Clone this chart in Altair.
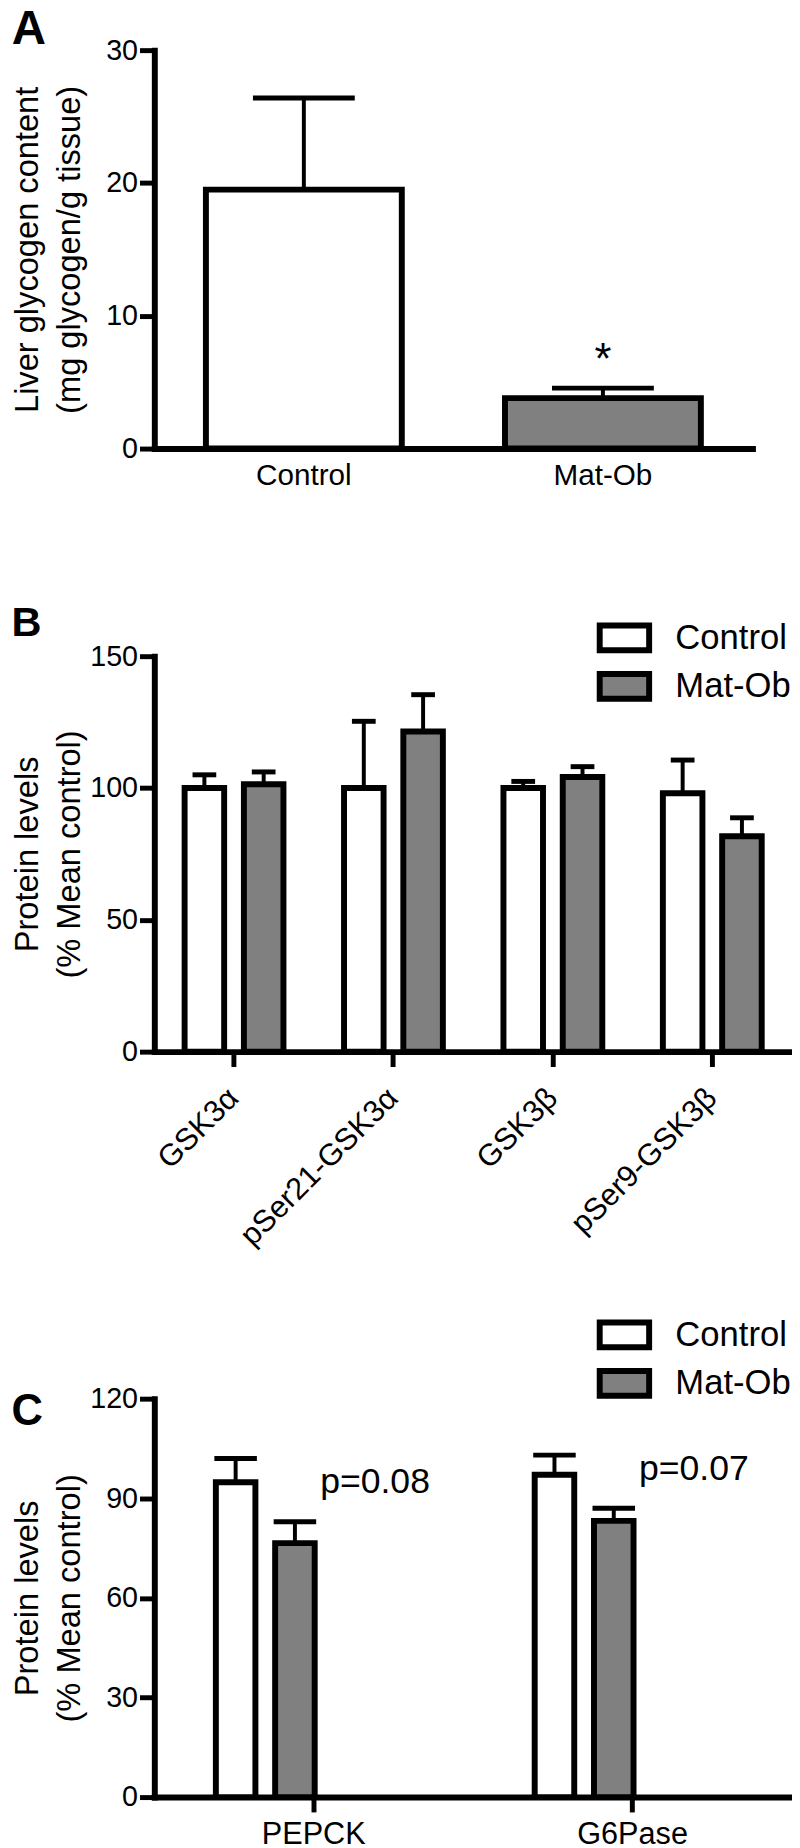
import altair as alt
import pandas as pd

FONT = "Liberation Sans, Arial, Helvetica, sans-serif"

# ---------------- data ----------------
groups = ["Control", "Mat-Ob"]
group_colors = ["#ffffff", "#808080"]

# Panel A: liver glycogen (mg glycogen / g tissue)
a_groups = ["Control", "Mat-Ob"]
a_mean = [19.5, 3.8]
a_err = [6.9, 0.75]
a_marks = ["", "*"]

# Panel B: protein levels (% mean control)
b_targets = ["GSK3α", "pSer21-GSK3α", "GSK3β", "pSer9-GSK3β"]
b_control_mean = [100.0, 100.0, 100.0, 98.0]
b_control_err = [5.0, 25.3, 2.5, 12.6]
b_matob_mean = [101.4, 121.4, 104.2, 81.7]
b_matob_err = [4.7, 14.0, 3.9, 7.0]

# Panel C: protein levels (% mean control)
c_targets = ["PEPCK", "G6Pase"]
c_control_mean = [94.8, 97.1]
c_control_err = [7.2, 5.9]
c_matob_mean = [76.5, 83.2]
c_matob_err = [6.4, 3.8]
c_pvalues = ["p=0.08", "p=0.07"]

# ---------------- tables ----------------
dfA = pd.DataFrame({
    "group": a_groups,
    "mean": a_mean,
    "upper": [m + e for m, e in zip(a_mean, a_err)],
    "mark": a_marks,
})


def long_table(targets, cm, ce, mm, me):
    rows = []
    for i, t in enumerate(targets):
        rows.append({"target": t, "group": "Control", "mean": cm[i], "upper": cm[i] + ce[i]})
        rows.append({"target": t, "group": "Mat-Ob", "mean": mm[i], "upper": mm[i] + me[i]})
    return pd.DataFrame(rows)


dfB = long_table(b_targets, b_control_mean, b_control_err, b_matob_mean, b_matob_err)
dfC = long_table(c_targets, c_control_mean, c_control_err, c_matob_mean, c_matob_err)
dfC_notes = pd.DataFrame({
    "target": c_targets,
    "upper": [m + e for m, e in zip(c_matob_mean, c_matob_err)],
    "note": c_pvalues,
})

# 50 x 25 px rectangle drawn from a small nominal symbol size
RECT_PATH = "M-2,-1H2V1H-2Z"


def legend(ly):
    return alt.Legend(
        title=None, orient="none", legendX=458, legendY=ly, padding=0,
        symbolType=RECT_PATH, symbolSize=625, symbolStrokeWidth=6,
        symbolStrokeColor="black", symbolOpacity=1,
        labelFont=FONT, labelFontSize=35, labelColor="black",
        labelOffset=34, rowPadding=0,
    )


# ---------------- panel A ----------------
xA = alt.X("group:N", sort=a_groups,
           scale=alt.Scale(paddingInner=0.345, paddingOuter=0.1725),
           axis=alt.Axis(title=None, labelAngle=0, ticks=False, tickSize=0,
                         labelPadding=12, labelFontSize=30))
yA_axis = alt.Axis(values=[0, 10, 20, 30], title=["Liver glycogen content", "(mg glycogen/g tissue)"],
                   labelFlush=False, titlePadding=19)
yA = alt.Y("mean:Q", scale=alt.Scale(domain=[0, 30], nice=False), axis=yA_axis)

barsA = alt.Chart(dfA).mark_bar(stroke="black", strokeWidth=6, opacity=1).encode(
    x=xA, y=yA,
    color=alt.Color("group:N", scale=alt.Scale(domain=groups, range=group_colors), legend=None))
ruleA = alt.Chart(dfA).mark_rule(strokeWidth=4, color="black").encode(
    x=alt.X("group:N", sort=a_groups), y="mean:Q", y2="upper:Q")
capA = alt.Chart(dfA).mark_tick(size=103, thickness=5, color="black", opacity=1).encode(
    x=alt.X("group:N", sort=a_groups), y="upper:Q")
starA = alt.Chart(dfA).mark_text(fontSize=44, dy=-14, baseline="alphabetic", font=FONT, color="black").encode(
    x=alt.X("group:N", sort=a_groups), y="upper:Q", text="mark:N")

panelA = alt.layer(barsA, ruleA, capA, starA).properties(
    width=605, height=403,
    title=alt.TitleParams("A", anchor="start", frame="bounds", fontSize=48, fontWeight="bold",
                          font=FONT, color="black", offset=-18),
)


# ---------------- panels B and C ----------------
def grouped_panel(df, targets, ymax, yvalues, pin, pout, offpad, cap, width, height,
                  angle, label_size, label_pad, leg_y, letter, letter_size, letter_offset,
                  notes=None, note_dx=0):
    x = alt.X("target:N", sort=targets, scale=alt.Scale(paddingInner=pin, paddingOuter=pout),
              axis=alt.Axis(title=None, labelAngle=angle, labelFontSize=label_size,
                            labelPadding=label_pad, labelLimit=0,
                            labelAlign="right" if angle else "center",
                            labelBaseline="middle" if angle else "top"))
    xo = alt.XOffset("group:N", sort=groups, scale=alt.Scale(paddingInner=offpad, paddingOuter=0))
    y = alt.Y("mean:Q", scale=alt.Scale(domain=[0, ymax], nice=False),
              axis=alt.Axis(values=yvalues, title=["Protein levels", "(% Mean control)"],
                            labelFlush=False, titlePadding=3))
    bars = alt.Chart(df).mark_bar(stroke="black", strokeWidth=6, opacity=1).encode(
        x=x, xOffset=xo, y=y,
        color=alt.Color("group:N", sort=groups,
                        scale=alt.Scale(domain=groups, range=group_colors),
                        legend=legend(leg_y)))
    rule = alt.Chart(df).mark_rule(strokeWidth=4, color="black").encode(
        x=alt.X("target:N", sort=targets), xOffset=xo, y="mean:Q", y2="upper:Q")
    tick = alt.Chart(df).mark_tick(size=cap, thickness=5, color="black", opacity=1).encode(
        x=alt.X("target:N", sort=targets), xOffset=xo, y="upper:Q")
    layers = [bars, rule, tick]
    if notes is not None:
        txt = alt.Chart(notes).mark_text(fontSize=36, dx=note_dx, dy=-29, baseline="alphabetic",
                                         font=FONT, color="black").encode(
            x=alt.X("target:N", sort=targets), y="upper:Q", text="note:N")
        layers.append(txt)
    return alt.layer(*layers).properties(
        width=width, height=height,
        title=alt.TitleParams(letter, anchor="start", frame="bounds", fontSize=letter_size,
                              fontWeight="bold", font=FONT, color="black", offset=letter_offset),
    )


panelB = grouped_panel(dfB, b_targets, 150, [0, 50, 100, 150], 0.38, 0.19, 0.333, 24, 645, 400,
                       -45, 31, 27, -36, "B", 42, -25)
panelC = grouped_panel(dfC, c_targets, 120, [0, 30, 60, 90, 120], 0.386, 0.193, 0.377, 43, 645, 403,
                       0, 31, 8, -82, "C", 44, -118, notes=dfC_notes, note_dx=62)

chart = alt.vconcat(
    panelA,
    alt.vconcat(panelB, panelC, spacing=67).resolve_scale(color="independent").resolve_legend(color="independent"),
    spacing=114,
).resolve_scale(color="independent").resolve_legend(color="independent").properties(
    padding={"top": -12, "left": 3, "right": 0, "bottom": 0}
).configure_view(stroke=None).configure_axis(
    domainColor="black", domainWidth=6, domainCap="square",
    tickColor="black", tickWidth=5, tickSize=15,
    labelColor="black", labelFont=FONT, labelFontSize=29, labelPadding=2,
    titleColor="black", titleFont=FONT, titleFontSize=33, titleFontWeight="normal",
    titleLineHeight=43, grid=False, labelOverlap=False,
).configure_tick(opacity=1)

chart.save("out.html", embed_options={"renderer": "svg", "actions": False})
